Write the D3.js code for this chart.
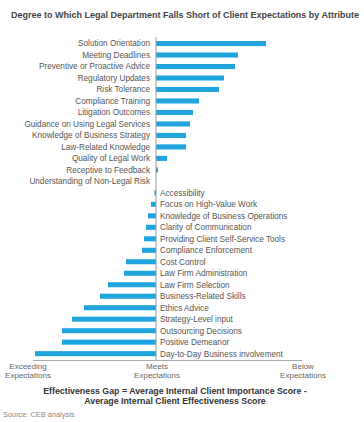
<!DOCTYPE html>
<html><head><meta charset="utf-8">
<script src="https://cdn.jsdelivr.net/npm/d3@7"></script>
<style>body{margin:0;background:#fff}svg{display:block;font-family:"Liberation Sans",Arial,sans-serif}</style>
</head><body><svg id="c" width="364" height="422"></svg>
<script>
const categories = ["Solution Orientation","Meeting Deadlines","Preventive or Proactive Advice","Regulatory Updates","Risk Tolerance","Compliance Training","Litigation Outcomes","Guidance on Using Legal Services","Knowledge of Business Strategy","Law-Related Knowledge","Quality of Legal Work","Receptive to Feedback","Understanding of Non-Legal Risk","Accessibility","Focus on High-Value Work","Knowledge of Business Operations","Clarity of Communication","Providing Client Self-Service Tools","Compliance Enforcement","Cost Control","Law Firm Administration","Law Firm Selection","Business-Related Skills","Ethics Advice","Strategy-Level input","Outsourcing Decisions","Positive Demeanor","Day-to-Day Business involvement"];
const gapValues = [0.55,0.41,0.395,0.34,0.315,0.215,0.185,0.17,0.15,0.15,0.055,0.01,0,-0.008,-0.025,-0.04,-0.05,-0.06,-0.07,-0.15,-0.16,-0.24,-0.28,-0.36,-0.42,-0.47,-0.47,-0.605];
const axisTicks = [{v:-0.64,l:["Exceeding","Expectations"]},{v:0.005,l:["Meets","Expectations"]},{v:0.735,l:["Below","Expectations"]}];
const titleText = "Degree to Which Legal Department Falls Short of Client Expectations by Attribute";
const noteLines = ["Effectiveness Gap = Average Internal Client Importance Score -","Average Internal Client Effectiveness Score"];
const sourceText = "Source: CEB analysis";

const svg = d3.select("#c");
const x = d3.scaleLinear().domain([0,1]).range([156,356]);
const y = d3.scaleBand().domain(categories).range([37.8,359.4]).paddingInner(0.56).paddingOuter(0.28);

svg.append("text").attr("x",185).attr("y",18).attr("text-anchor","middle")
  .attr("font-size",8.9).attr("font-weight","bold").attr("fill","#444")
  .attr("textLength",348).attr("lengthAdjust","spacingAndGlyphs").text(titleText);

svg.append("g").selectAll("rect").data(categories).join("rect")
  .attr("x",(d,i)=>x(Math.min(0,gapValues[i])))
  .attr("width",(d,i)=>Math.abs(x(gapValues[i])-x(0)))
  .attr("y",d=>y(d)).attr("height",y.bandwidth())
  .attr("fill","#1ea5de");

svg.append("g").selectAll("text").data(categories).join("text")
  .attr("x",(d,i)=>gapValues[i]>=0 ? x(0)-6 : x(0)+4)
  .attr("text-anchor",(d,i)=>gapValues[i]>=0?"end":"start")
  .attr("y",d=>y(d)+y.bandwidth()/2).attr("dy","0.35em")
  .attr("font-size",8.2).attr("fill","#555").text(d=>d);

svg.append("line").attr("x1",x(0)).attr("x2",x(0)).attr("y1",37).attr("y2",360.5).attr("stroke","#999").attr("stroke-width",1);
svg.append("line").attr("x1",x(-0.615)).attr("x2",x(0.73)).attr("y1",360.5).attr("y2",360.5).attr("stroke","#aaa").attr("stroke-width",1);

const tg = svg.append("g").selectAll("text").data(axisTicks).join("text")
  .attr("x",d=>x(d.v)).attr("y",369).attr("text-anchor","middle").attr("font-size",8).attr("fill","#666");
tg.selectAll("tspan").data(d=>d.l.map(s=>({s,v:d.v}))).join("tspan")
  .attr("x",d=>x(d.v)).attr("dy",(d,i)=>i?"1.15em":0).text(d=>d.s);

svg.append("g").selectAll("text").data(noteLines).join("text")
  .attr("x",175).attr("y",(d,i)=>394+i*9.5).attr("text-anchor","middle")
  .attr("font-size",8.8).attr("font-weight","bold").attr("fill","#333").text(d=>d);

svg.append("text").attr("x",3).attr("y",416.5).attr("font-size",7.4).attr("fill","#888").text(sourceText);
</script></body></html>
